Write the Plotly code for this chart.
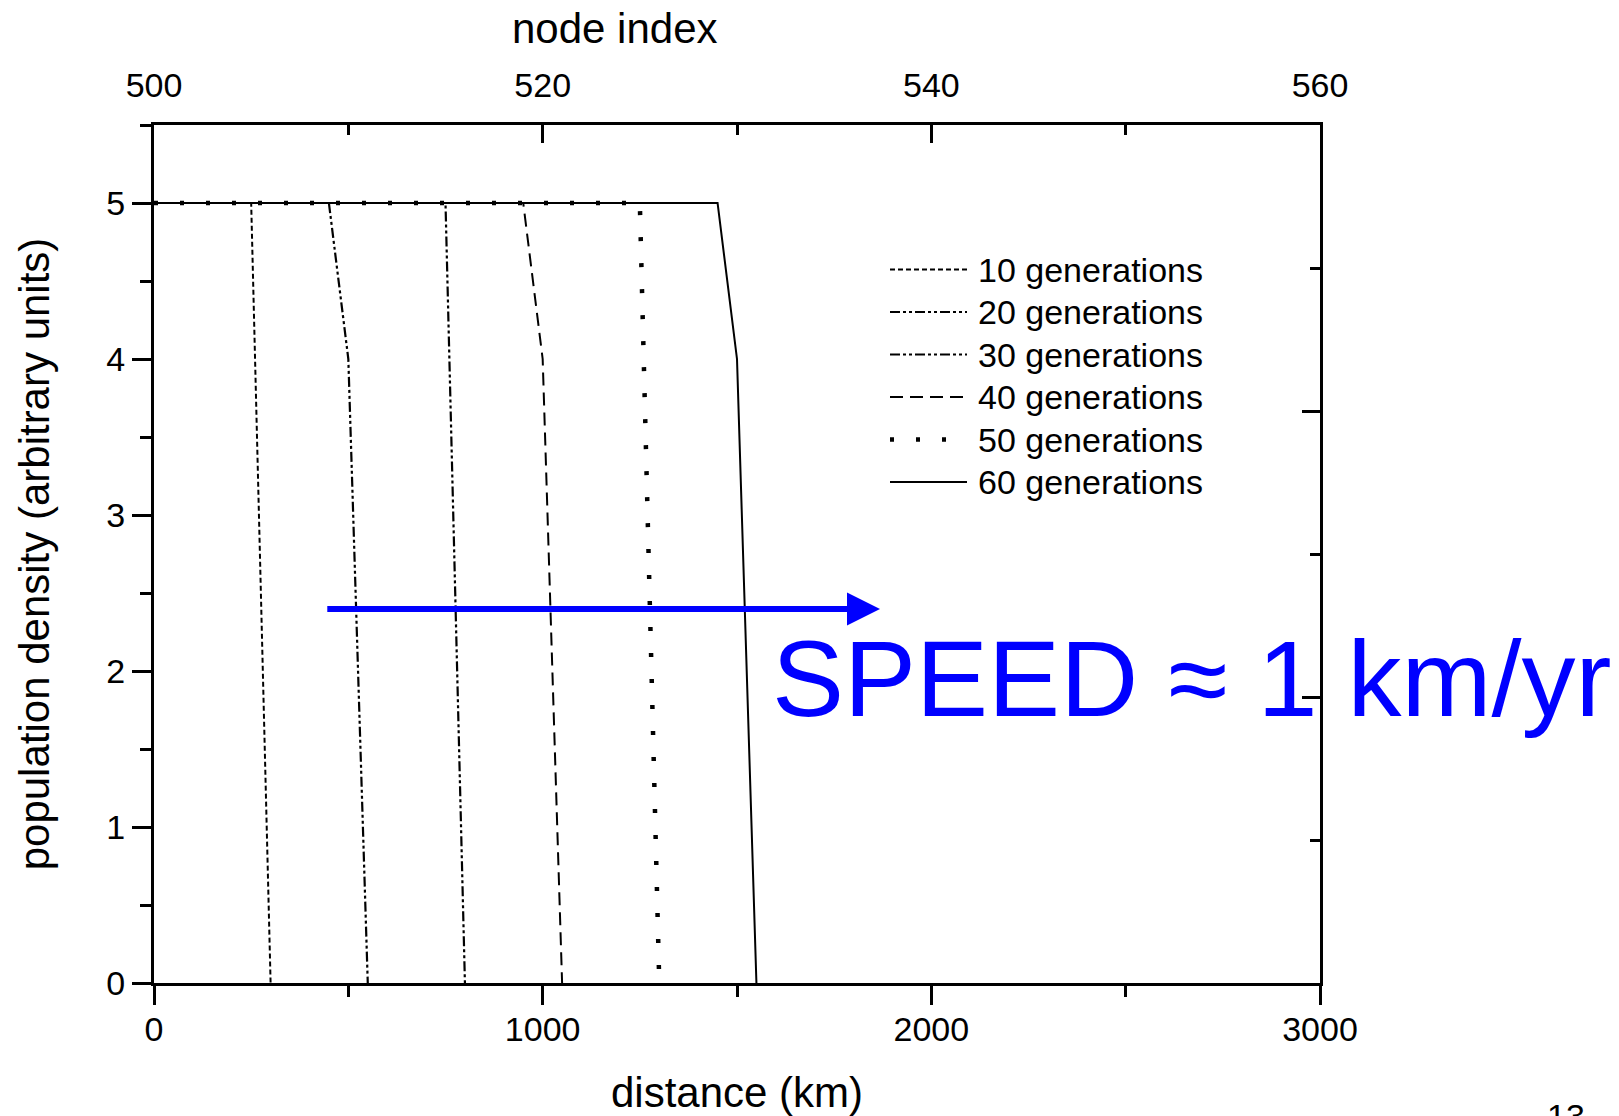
import plotly.graph_objects as go

# ---------------- data ----------------
series_names = ["10 generations", "20 generations", "30 generations",
                "40 generations", "50 generations", "60 generations"]
gen10_km = [0, 250, 300]
gen10_density = [5, 5, 0]
gen20_km = [0, 450, 500, 550]
gen20_density = [5, 5, 4, 0]
gen30_km = [0, 750, 800]
gen30_density = [5, 5, 0]
gen40_km = [0, 950, 1000, 1050]
gen40_density = [5, 5, 4, 0]
gen50_km = [0, 1250, 1300]
gen50_density = [5, 5, 0]
gen60_km = [0, 1450, 1500, 1550]
gen60_density = [5, 5, 4, 0]

x_ticks_km = [0, 1000, 2000, 3000]
y_ticks = [0, 1, 2, 3, 4, 5]
node_ticks = [500, 520, 540, 560]

x_title = "distance (km)"
x2_title = "node index"
y_title = "population density (arbitrary units)"

arrow_start_km, arrow_end_km, arrow_level = 442, 1868, 2.397
speed_text = "SPEED \u2248 1 km/yr"
page_number = "13"

# ---------------- styles ----------------
FONT = "Liberation Sans, Arial, sans-serif"
styles = [
    dict(dash="5px,3px", width=2),
    dict(dash="10px,3px,3px,3px,3px,3px", width=2.2),
    dict(dash="10px,3px,3px,3px,3px,3px", width=2.2),
    dict(dash="13px,7px", width=2),
    dict(dash="4px,22px", width=4.5),
    dict(dash="solid", width=2),
]
xs = [gen10_km, gen20_km, gen30_km, gen40_km, gen50_km, gen60_km]
ys = [gen10_density, gen20_density, gen30_density, gen40_density, gen50_density, gen60_density]

W, H = 1619, 1116
L, T = 146, 117
pw, ph = 1166, 858
R, B = W - L - pw, H - T - ph

fig = go.Figure()
for name, x, y, st in zip(series_names, xs, ys, styles):
    fig.add_trace(go.Scatter(x=x, y=y, mode="lines", name=name, showlegend=False,
                             line=dict(color="black", width=st["width"], dash=st["dash"])))

# invisible trace to activate top / right axes
fig.add_trace(go.Scatter(x=[node_ticks[0], node_ticks[-1]], y=[0, 6], xaxis="x2", yaxis="y2",
                         mode="lines", line=dict(width=0), showlegend=False, hoverinfo="skip"))

tickfont = dict(family=FONT, size=34, color="black")
titlefont = dict(family=FONT, size=42, color="black")

fig.update_layout(
    width=W, height=H,
    margin=dict(l=L, r=R, t=T, b=B, autoexpand=False),
    paper_bgcolor="white", plot_bgcolor="white",
    showlegend=False,
    xaxis=dict(range=[0, 3000], tickvals=x_ticks_km, ticks="outside", ticklen=19, tickwidth=2.5,
               tickcolor="black", showline=True, linecolor="black", linewidth=3,
               showgrid=False, zeroline=False, tickfont=tickfont, automargin=False,
               minor=dict(dtick=500, ticks="outside", ticklen=11, tickwidth=2.5, tickcolor="black", showgrid=False),
               ticklabelstandoff=-5),
    yaxis=dict(range=[0, 5.5], tickvals=y_ticks, ticks="outside", ticklen=19, tickwidth=2.5,
               tickcolor="black", showline=True, linecolor="black", linewidth=3,
               showgrid=False, zeroline=False, tickfont=tickfont, automargin=False,
               minor=dict(dtick=0.5, ticks="outside", ticklen=11, tickwidth=2.5, tickcolor="black", showgrid=False),
               title=dict(text=y_title, font=titlefont, standoff=44),
               ticklabelstandoff=0),
    xaxis2=dict(range=[500, 560], overlaying="x", side="top", anchor="y",
                tickvals=node_ticks, ticks="inside", ticklen=18, tickwidth=2.5, tickcolor="black",
                showline=True, linecolor="black", linewidth=3, showgrid=False, zeroline=False,
                tickfont=tickfont, automargin=False,
                minor=dict(dtick=10, ticks="inside", ticklen=10, tickwidth=2.5, tickcolor="black", showgrid=False),
                ticklabelstandoff=11),
    yaxis2=dict(range=[0, 6], overlaying="y", side="right", anchor="x",
                dtick=2, ticks="inside", ticklen=18, tickwidth=2.5, tickcolor="black",
                showline=True, linecolor="black", linewidth=3, showgrid=False, zeroline=False,
                showticklabels=False, automargin=False,
                minor=dict(dtick=1, ticks="inside", ticklen=10, tickwidth=2.5, tickcolor="black", showgrid=False)),
)

# x axis titles placed precisely (near the page edges)
fig.add_annotation(text=x_title, xref="paper", yref="paper", x=0.5, y=-(1084 - (H - B)) / ph,
                   xanchor="center", yanchor="middle", showarrow=False, font=titlefont)
fig.add_annotation(text=x2_title, xref="paper", yref="paper", x=(607 - L) / pw, y=(H - B - 20) / ph,
                   xanchor="center", yanchor="middle", showarrow=False, font=titlefont)

# manual legend (long line samples like the original)
leg_x0, leg_x1, leg_text_x = 882, 959, 968
leg_y0, leg_dy = 261.5, 42.5
for i, (name, st) in enumerate(zip(series_names, styles)):
    py = leg_y0 + i * leg_dy
    yp = (H - B - py) / ph
    fig.add_shape(type="line", xref="paper", yref="paper",
                  x0=(leg_x0 - L) / pw, x1=(leg_x1 - L) / pw, y0=yp, y1=yp,
                  line=dict(color="black", width=st["width"], dash=st["dash"]))
    fig.add_annotation(text=name, xref="paper", yref="paper", x=(leg_text_x - L) / pw, y=yp,
                       xanchor="left", yanchor="middle", showarrow=False,
                       font=dict(family=FONT, size=34, color="black"))

# blue arrow
fig.add_annotation(x=arrow_end_km, y=arrow_level, ax=arrow_start_km, ay=arrow_level,
                   xref="x", yref="y", axref="x", ayref="y", text="", showarrow=True,
                   arrowhead=2, arrowsize=1.1, arrowwidth=6, arrowcolor="#0000ff")
# speed text
fig.add_annotation(x=1584, y=1.955, xref="x", yref="y", text=speed_text, showarrow=False,
                   xanchor="left", yanchor="middle",
                   font=dict(family=FONT, size=108, color="#0000ff"))
# page number (cut off at bottom)
fig.add_annotation(x=(1537 - L) / pw, y=-(1087 - (H - B)) / ph, xref="paper", yref="paper",
                   text=page_number, showarrow=False, xanchor="left", yanchor="top",
                   font=dict(family=FONT, size=34, color="black"))

fig.write_html("out.html")
